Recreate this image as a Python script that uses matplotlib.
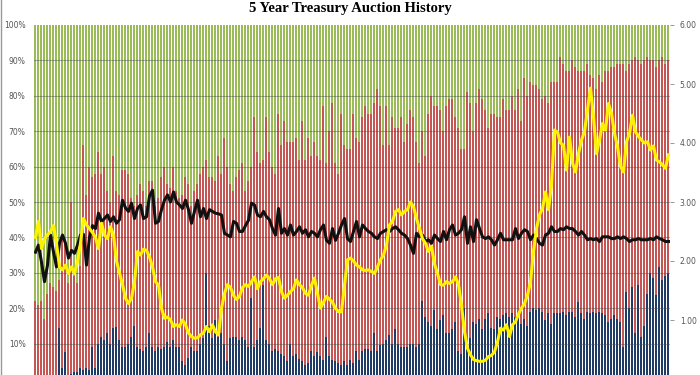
import numpy as np
import matplotlib
matplotlib.use("Agg")
import matplotlib.pyplot as plt

# share of each auction (%), cumulative top of the non-green part
total_pct = [
    22, 21, 22, 17, 24, 27, 26, 25, 28, 40, 38, 27, 50, 29, 27, 32,
    66, 52, 60, 57, 58, 64, 58, 60, 53, 50, 63, 53, 52, 59, 59, 58,
    51, 49, 52, 55, 53, 49, 56, 56, 49, 51, 57, 60, 55, 54, 60, 53,
    51, 52, 57, 55, 49, 53, 55, 58, 60, 62, 57, 57, 56, 63, 58, 68,
    60, 55, 53, 57, 59, 61, 53, 56, 60, 74, 64, 61, 62, 74, 64, 60,
    58, 75, 66, 73, 67, 67, 67, 68, 62, 73, 62, 68, 63, 67, 63, 62,
    77, 61, 70, 78, 61, 58, 75, 66, 65, 65, 75, 68, 67, 74, 77, 75,
    75, 78, 82, 77, 66, 77, 66, 74, 71, 71, 74, 67, 72, 76, 74, 67,
    61, 70, 63, 75, 80, 77, 77, 76, 70, 77, 79, 79, 74, 71, 65, 65,
    81, 78, 70, 78, 82, 79, 76, 71, 75, 75, 74, 74, 79, 76, 76, 80,
    76, 82, 73, 85, 80, 84, 83, 83, 82, 79, 80, 78, 84, 84, 84, 91,
    89, 87, 87, 90, 88, 87, 87, 87, 89, 86, 85, 82, 86, 84, 87, 87,
    88, 88, 89, 89, 89, 87, 89, 90, 91, 90, 89, 90, 91, 90, 90, 88,
    90, 91, 89, 90,
]

# bottom (blue) share, %
blue_pct = [
    0, 0, 0, 0, 0, 0, 0, 0, 14.4, 3, 7.6, 1, 1.5, 2, 2, 3,
    2.5, 3, 2.5, 9, 3, 10, 12, 11, 13, 10, 14.5, 14.7, 11, 9, 9, 10,
    12, 15, 9, 8.5, 8, 9, 13, 9, 8, 9, 8.5, 9, 10.5, 9, 11, 9,
    9, 5, 4, 6, 9, 8, 8, 10, 11.5, 30, 15, 11.5, 16.7, 12, 13, 10,
    5, 11.5, 12, 12, 11, 12, 11, 9, 23, 9, 11, 14.4, 26.5, 11, 10, 8,
    8.5, 8, 7, 6.5, 5, 10, 6.5, 7, 5.6, 5, 4, 4.5, 8, 6.5, 7.5, 6.5,
    5.5, 12, 6.5, 5.5, 5, 4.5, 4, 5, 4, 5.5, 4.5, 8, 5.5, 8, 8.5, 8.5,
    8, 13, 8, 9.5, 10, 11, 12.5, 10, 14, 10, 9, 9, 9, 10, 10, 9,
    10, 22, 17.6, 16, 15, 19.5, 14, 16.7, 18, 13, 13, 14, 16, 8, 7, 20,
    10, 11.5, 16, 15.5, 17, 14, 17, 18.6, 14.5, 14, 17.6, 17, 18, 18.6, 17.6, 18.6,
    17.6, 18.6, 15.5, 17, 15, 19, 20, 19.5, 20, 19, 16.7, 18.6, 15.5, 18.6, 18.6, 18.6,
    19, 18, 19, 19, 17.6, 21.8, 18.6, 17, 19, 18.6, 19, 18.6, 19, 18.6, 18, 16,
    17, 18, 17, 16, 9, 24.5, 20, 26, 13, 26.5, 12, 15, 24, 30, 28.5, 23.7,
    31.6, 28, 29, 30,
]

# bid-to-cover (right axis)
bid_cover = [
    2.15, 2.27, 1.98, 1.65, 1.93, 2.44, 2.15, 1.9, 2.3, 2.44, 2.3, 2.05, 2.18, 2.13, 2.27, 2.44,
    2.45, 1.93, 2.4, 2.6, 2.55, 2.81, 2.67, 2.72, 2.78, 2.67, 2.75, 2.64, 2.7, 3.03, 2.9, 2.84,
    2.98, 2.72, 2.89, 2.95, 2.72, 2.75, 3.1, 3.2, 2.64, 2.67, 2.87, 3.03, 3.12, 3.0, 3.17, 3.0,
    2.95, 2.89, 3.03, 2.87, 2.64, 2.84, 3.03, 2.75, 2.89, 2.72, 2.87, 2.84, 2.81, 2.8, 2.78, 2.47,
    2.44, 2.41, 2.67, 2.64, 2.5, 2.5, 2.6, 2.69, 2.98, 2.95, 2.78, 2.75, 2.84, 2.75, 2.7, 2.55,
    2.44, 2.89, 2.47, 2.55, 2.44, 2.61, 2.44, 2.5, 2.58, 2.47, 2.53, 2.41, 2.5, 2.47, 2.41, 2.53,
    2.61, 2.35, 2.3, 2.55, 2.35, 2.47, 2.61, 2.72, 2.38, 2.33, 2.5, 2.67, 2.41, 2.61, 2.55, 2.5,
    2.47, 2.41, 2.38, 2.47, 2.5, 2.53, 2.5, 2.55, 2.58, 2.53, 2.47, 2.44, 2.38, 2.27, 2.13, 2.47,
    2.41, 2.44, 2.33, 2.36, 2.3, 2.44, 2.38, 2.33, 2.5, 2.36, 2.53, 2.61, 2.44, 2.47, 2.53, 2.75,
    2.3, 2.58, 2.33, 2.7, 2.55, 2.41, 2.38, 2.41, 2.36, 2.27, 2.36, 2.47, 2.36, 2.36, 2.36, 2.36,
    2.55, 2.38, 2.47, 2.53, 2.5, 2.36, 2.44, 2.38, 2.3, 2.27, 2.44, 2.47, 2.58, 2.5, 2.5, 2.55,
    2.53, 2.58, 2.55, 2.55, 2.5, 2.44, 2.5, 2.44, 2.36, 2.38, 2.36, 2.38, 2.33, 2.41, 2.41, 2.41,
    2.38, 2.38, 2.41, 2.38, 2.41, 2.38, 2.33, 2.36, 2.36, 2.38, 2.36, 2.36, 2.36, 2.38, 2.36, 2.41,
    2.38, 2.36, 2.33, 2.33,
]

# high yield (right axis)
high_yield = [
    2.4, 2.67, 2.21, 2.38, 2.44, 2.5, 2.6, 2.3, 1.9, 1.85, 1.93, 1.79, 1.9, 1.79, 1.99, 2.3,
    2.72, 2.61, 2.55, 2.48, 2.4, 2.21, 2.64, 2.44, 2.38, 2.58, 2.44, 2.0, 1.8, 1.6, 1.37, 1.28,
    1.37, 1.65, 2.16, 2.1, 2.2, 2.18, 2.07, 1.9, 1.65, 1.59, 1.2, 1.03, 1.05, 1.0, 0.89, 0.92,
    0.89, 1.0, 0.92, 0.78, 0.72, 0.69, 0.7, 0.75, 0.78, 0.89, 0.8, 0.92, 0.8, 0.75, 1.2, 1.45,
    1.6, 1.55, 1.42, 1.35, 1.4, 1.55, 1.6, 1.57, 1.65, 1.73, 1.53, 1.65, 1.7, 1.76, 1.7, 1.6,
    1.7, 1.72, 1.48, 1.37, 1.42, 1.48, 1.53, 1.68, 1.6, 1.55, 1.45, 1.42, 1.59, 1.71, 1.45, 1.2,
    1.3, 1.4, 1.35, 1.3, 1.2, 1.14, 1.14, 1.59, 2.02, 2.05, 2.0, 1.93, 1.9, 1.85, 1.84, 1.85,
    1.82, 1.79, 1.9, 2.02, 2.1, 2.27, 2.61, 2.67, 2.84, 2.87, 2.78, 2.84, 2.87, 3.0, 2.92, 2.72,
    2.55, 2.38, 2.3, 2.16, 2.25, 1.95, 1.79, 1.6, 1.59, 1.65, 1.62, 1.65, 1.73, 1.6, 1.25, 0.8,
    0.52, 0.41, 0.33, 0.31, 0.3, 0.3, 0.32, 0.38, 0.4, 0.46, 0.63, 0.86, 0.83, 0.92, 0.72, 0.92,
    0.97, 1.1, 1.2, 1.28, 1.42, 1.65, 2.16, 2.55, 2.78, 2.89, 3.17, 2.87, 3.3, 4.22, 4.18, 4.0,
    3.96, 3.54, 4.1, 3.66, 3.51, 3.82, 4.05, 4.19, 4.56, 4.93, 4.45, 3.82, 4.05, 4.33, 4.22, 4.67,
    4.5, 4.16, 3.94, 3.6, 3.51, 4.02, 4.16, 4.47, 4.19, 4.11, 4.05, 4.0, 4.02, 3.88, 3.95, 3.71,
    3.68, 3.63, 3.57, 3.8,
]

left_ticks = [10, 20, 30, 40, 50, 60, 70, 80, 90, 100]
left_labels = [f"{v}%" for v in left_ticks]
right_ticks = [1, 2, 3, 4, 5, 6]
right_labels = [f"{v:.2f}" for v in right_ticks]

GREEN = "#9BBB59"
RED = "#C65654"
BLUE = "#1F3B66"

total = np.array(total_pct)
blue = np.array(blue_pct)
x = np.arange(len(total))

fig = plt.figure(figsize=(7, 3.75), dpi=100)
# 3 px per auction slot so the bars sit on whole pixels
ax = fig.add_axes([34 / 700, 0.0, 3 * len(x) / 700, 350 / 375])

w = 0.76
bar_kw = dict(width=w, align="edge", linewidth=0, zorder=2)
ax.bar(x - 0.5, blue, color=BLUE, **bar_kw)
ax.bar(x - 0.5, total - blue, bottom=blue, color=RED, **bar_kw)
ax.bar(x - 0.5, 100 - total, bottom=total, color=GREEN, **bar_kw)

for v in left_ticks[:-1]:
    ax.axhline(v, color="#4d4d4d", linewidth=0.8, alpha=0.45, zorder=3)

low = (379 - 375) / 3.54
ax.set_xlim(-0.5, len(x) - 0.5)
ax.set_ylim(low, 100)
ax.set_xticks([])
ax.set_yticks(left_ticks)
ax.set_yticklabels(left_labels)
ax.tick_params(axis="y", length=0, pad=6, labelsize=5.5, labelcolor="#555555")
for s in ax.spines.values():
    s.set_visible(False)

ax2 = ax.twinx()
ax2.plot(x, bid_cover, color="#111111", linewidth=2.2, zorder=5)
ax2.plot(x, high_yield, color="#FFF200", linewidth=2.2, zorder=6)
ax2.set_ylim(low * 6 / 100, 6)
ax2.set_yticks(right_ticks)
ax2.set_yticklabels(right_labels)
ax2.tick_params(axis="y", length=3, width=0.6, color="#888888", pad=4,
                labelsize=5.5, labelcolor="#555555")
for s in ax2.spines.values():
    s.set_visible(False)

fig.text(0.5, 0.978, "5 Year Treasury Auction History", ha="center", va="center",
         fontsize=10.5, fontweight="bold", family="Liberation Serif")

fig.add_artist(plt.Line2D([0.001, 0.001], [0, 1], color="#999999", linewidth=1))

fig.savefig("out.png", dpi=100)
